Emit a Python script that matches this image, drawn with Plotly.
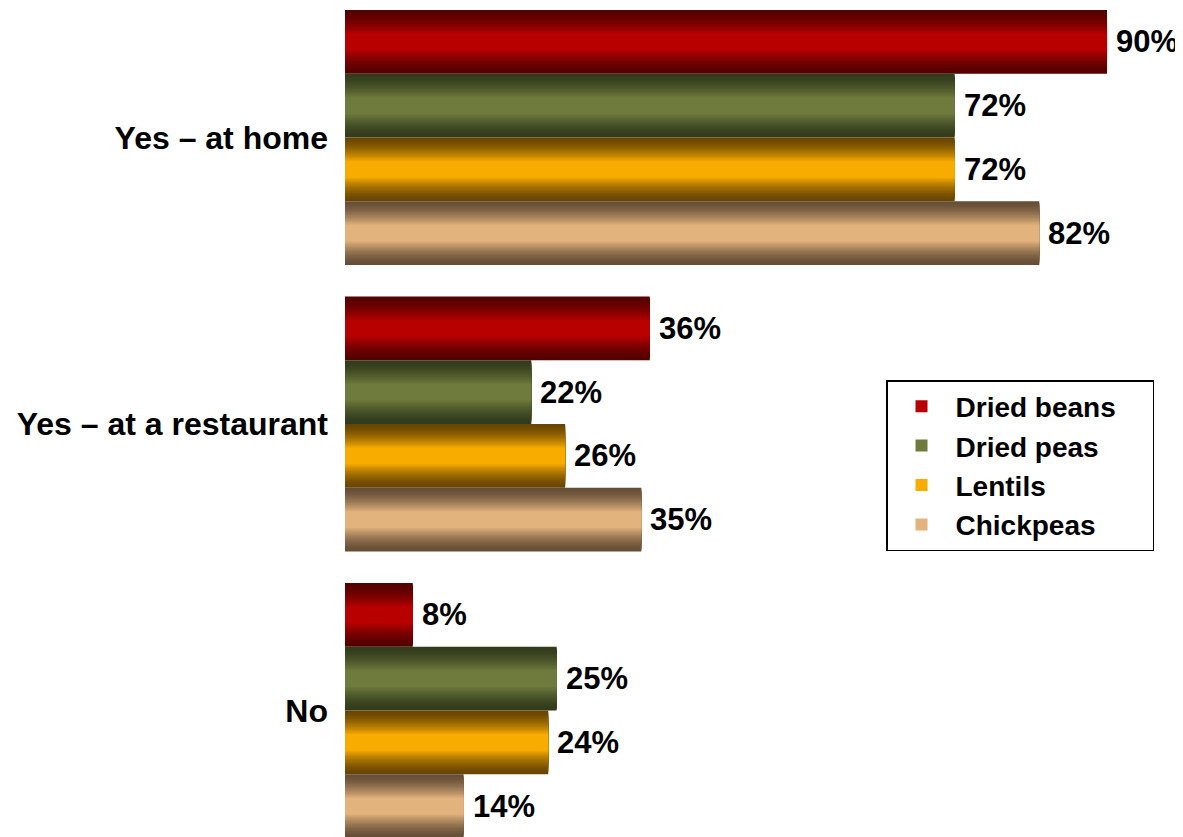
import plotly.graph_objects as go

categories = ["Yes – at home", "Yes – at a restaurant", "No"]
series_names = ["Dried beans", "Dried peas", "Lentils", "Chickpeas"]
dried_beans = [90, 36, 8]
dried_peas = [72, 22, 25]
lentils = [72, 26, 24]
chickpeas = [82, 35, 14]
values = [dried_beans, dried_peas, lentils, chickpeas]

edge_colors = [(85, 0, 0), (50, 59, 28), (105, 70, 0), (102, 78, 54)]
mid_colors = [(184, 0, 0), (111, 123, 61), (248, 172, 0), (227, 179, 125)]

FONT = "Liberation Sans, Arial, sans-serif"
ypos = list(range(len(categories)))
bar_w = 0.2225
K = 18
min_frac = 0.26

def mix(c1, c2, t):
    return "rgb(%d,%d,%d)" % tuple(round(a + (b - a) * t) for a, b in zip(c1, c2))

fig = go.Figure()
for j, name in enumerate(series_names):
    center = (j - 1.5) * bar_w
    for k in range(K):
        s = k / (K - 1)
        frac = 1 - (1 - min_frac) * s
        t = s ** 1.5
        w = bar_w * frac
        is_legend = k == K - 1
        col = mix(edge_colors[j], mid_colors[j], t)
        fig.add_trace(go.Bar(
            y=ypos,
            x=values[j],
            orientation="h",
            width=w,
            offset=center - w / 2,
            marker=dict(color=col, line=dict(width=0)),
            name=name + ("\u00a0\u00a0\u00a0\u00a0" if j == 0 else ""),
            legendgroup=name,
            legendrank=j + 1,
            showlegend=is_legend,
            hoverinfo="skip",
        ))
    for i, v in enumerate(values[j]):
        fig.add_annotation(
            x=v, y=ypos[i] + center, xref="x", yref="y",
            text=f"{v}%", showarrow=False, xanchor="left", yanchor="middle",
            xshift=7,
            font=dict(family=FONT, size=31, color="black", weight="bold"),
        )

fig.update_layout(
    width=1183,
    height=837,
    barmode="overlay",
    margin=dict(l=337, r=0, t=0, b=0, pad=0),
    plot_bgcolor="white",
    paper_bgcolor="white",
    font=dict(family=FONT, color="black"),
    xaxis=dict(range=[0, 99.92], visible=False, showgrid=False, zeroline=False),
    yaxis=dict(
        tickvals=ypos,
        ticktext=categories,
        range=[2.4695, -0.452],
        showgrid=False,
        zeroline=False,
        showline=False,
        ticks="",
        ticklabelstandoff=16,
        tickfont=dict(family=FONT, size=32, color="black", weight="bold"),
    ),
    legend=dict(
        x=0.6395,
        y=1 - 372 / 837,
        xanchor="left",
        yanchor="top",
        bordercolor="black",
        borderwidth=1.5,
        bgcolor="white",
        font=dict(family=FONT, size=28, color="black", weight="bold"),
        traceorder="grouped",
        tracegroupgap=0,
        itemwidth=58,
    ),
    showlegend=True,
)

fig.write_html("out.html")
